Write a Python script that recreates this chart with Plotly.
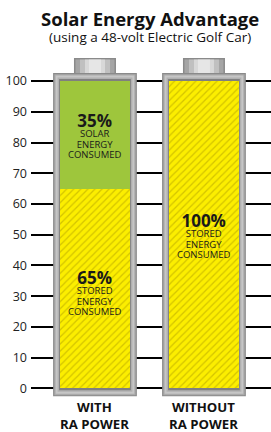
import plotly.graph_objects as go

# ---------------- data ----------------
categories = ["WITH<br>RA POWER", "WITHOUT<br>RA POWER"]
stored_energy = [65, 100]
solar_energy = [35, 0]
stored_labels = ["65%", "100%"]
solar_labels = ["35%", ""]
y_ticks = [0, 10, 20, 30, 40, 50, 60, 70, 80, 90, 100]
title_text = "Solar Energy Advantage"
subtitle_text = "(using a 48-volt Electric Golf Car)"

# ---------------- style ----------------
W, H = 271, 432
ML, MR, MT, MB = 31, 0, 55, 32
Y_RANGE = [-3.8, 108.5]
X_RANGE = [-0.587, 1.615]
BAR_W = 0.64
YELLOW = "#fcee00"
STRIPE = "#d4c400"
GREEN = "#9ec63c"
FONT = "Open Sans"

plot_w = W - ML - MR
plot_h = H - MT - MB
px_x = (X_RANGE[1] - X_RANGE[0]) / plot_w   # data units per px (x)
px_y = (Y_RANGE[1] - Y_RANGE[0]) / plot_h   # data units per px (y)


def paper_x(px):
    return (px - ML) / plot_w


def paper_y(py):
    return (H - MB - py) / plot_h


fig = go.Figure()
fig.add_trace(go.Bar(
    x=categories, y=stored_energy, width=BAR_W, name="stored",
    marker=dict(color=YELLOW, line=dict(width=0),
                pattern=dict(shape="/", fgcolor=STRIPE, bgcolor=YELLOW,
                             size=5, solidity=0.25, fillmode="replace")),
    hoverinfo="skip"))
fig.add_trace(go.Bar(
    x=categories, y=solar_energy, width=BAR_W, name="solar",
    marker=dict(color=GREEN, line=dict(width=0)), hoverinfo="skip"))

# battery frames and caps (decoration around each bar)
shapes = []
top_val = max(s + g for s, g in zip(stored_energy, solar_energy))
for i, _ in enumerate(categories):
    half = BAR_W / 2
    fx = 7 * px_x
    fy = 8 * px_y
    # cap
    cw = 21 * px_x
    cap_top = top_val + fy + 15 * px_y
    cap_layers = [(0, "#8a8a8a"), (1.5, "#a5a5a5"), (6, "#c0c0c0"), (11, "#d8d8d8"), (15, "#e6e6e6")]
    for inset, col in cap_layers:
        ix = inset * px_x
        iy = min(inset, 1.5) * px_y
        shapes.append(dict(type="rect", layer="between", xref="x", yref="y",
                           x0=i - cw + ix, x1=i + cw - ix,
                           y0=top_val + fy - 2 * px_y, y1=cap_top - iy,
                           fillcolor=col, line=dict(width=0)))
    # frame layers: outer dark, light middle, inner dark edge
    layers = [(0, "#8a8a8a"), (1.2, "#aaaaaa"), (2.5, "#c6c6c6"), (4.5, "#b0b0b0"), (6, "#808080")]
    for inset, col in layers:
        ix, iy = inset * px_x, inset * px_y
        shapes.append(dict(type="rect", layer="between", xref="x", yref="y",
                           x0=i - half - fx + ix, x1=i + half + fx - ix,
                           y0=0 - fy + iy, y1=top_val + fy - iy,
                           fillcolor=col, line=dict(width=0)))


def block(pct, kind):
    return ("<b><span style='font-size:17px'>" + pct + "</span></b><br>"
            "<span style='font-size:9.5px'>" + kind + "</span><br>"
            "<span style='font-size:9.5px'>ENERGY</span><br>"
            "<span style='font-size:9.5px'>CONSUMED</span>")


# labels inside the bars
annotations = []
shift_stored = [-4, 0]
for i, cat in enumerate(categories):
    if stored_labels[i]:
        yc = stored_energy[i] / 2
        annotations.append(dict(x=i, y=yc, xref="x", yref="y", text=block(stored_labels[i], "STORED"),
                                showarrow=False, yshift=shift_stored[i], yanchor="middle",
                                font=dict(family=FONT, size=8, color="#1a1a1a")))
    if solar_labels[i]:
        yc = stored_energy[i] + solar_energy[i] / 2
        annotations.append(dict(x=i, y=yc, xref="x", yref="y", text=block(solar_labels[i], "SOLAR"),
                                showarrow=False, yanchor="middle",
                                font=dict(family=FONT, size=8, color="#1a1a1a")))
    # category label under each battery
    annotations.append(dict(x=i, y=paper_y(415), xref="x", yref="paper", text="<b>" + cat + "</b>",
                            showarrow=False, xanchor="center", yanchor="middle", borderpad=0,
                            font=dict(family=FONT, size=13.2, color="#111")))

annotations.append(dict(x=paper_x(150), y=paper_y(19), xref="paper", yref="paper", text="<b>" + title_text + "</b>",
                        showarrow=False, xanchor="center", yanchor="middle",
                        font=dict(family=FONT, size=18.5, color="#111")))
annotations.append(dict(x=paper_x(150), y=paper_y(37), xref="paper", yref="paper", text=subtitle_text,
                        showarrow=False, xanchor="center", yanchor="middle",
                        font=dict(family=FONT, size=13.5, color="#111")))

fig.update_layout(
    width=W, height=H, margin=dict(l=ML, r=MR, t=MT, b=MB),
    paper_bgcolor="white", plot_bgcolor="white",
    barmode="stack", showlegend=False,
    shapes=shapes, annotations=annotations,
    xaxis=dict(range=X_RANGE, showgrid=False, zeroline=False, showline=False, ticks="",
               showticklabels=False, automargin=False, fixedrange=True),
    yaxis=dict(range=Y_RANGE, tickvals=y_ticks, showgrid=True, gridcolor="#000", gridwidth=2,
               zeroline=False, showline=False, ticks="", ticklabelstandoff=3, automargin=False,
               tickfont=dict(family=FONT, size=12.5, color="#222"), fixedrange=True),
)

fig.write_html("out.html", config={"displayModeBar": False},
               post_script="document.body.style.margin='0';document.body.style.overflow='hidden';")
